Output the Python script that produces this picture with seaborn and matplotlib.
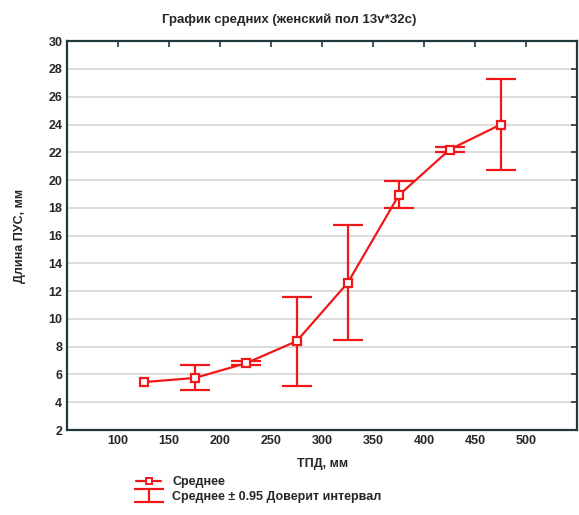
import matplotlib
matplotlib.use("Agg")
import matplotlib.pyplot as plt
import seaborn as sns
import pandas as pd
import math
from matplotlib.lines import Line2D

tpd = [125, 175, 225, 275, 325, 375, 425, 475]
mean_pus = [5.45, 5.75, 6.8, 8.4, 12.6, 18.9, 22.2, 24.0]
ci_low = [float('nan'), 4.9, 6.65, 5.2, 8.5, 18.0, 22.0, 20.7]
ci_high = [float('nan'), 6.65, 6.95, 11.6, 16.8, 19.9, 22.4, 27.3]

x_ticks = [100, 150, 200, 250, 300, 350, 400, 450, 500]
y_ticks = list(range(2, 31, 2))

sns.set_style("white")
plt.rcParams['font.family'] = ['Liberation Sans', 'DejaVu Sans']
plt.rcParams['font.weight'] = 'bold'

df = pd.DataFrame({"ТПД": tpd, "ПУС": mean_pus})

fig = plt.figure(figsize=(5.79, 5.15), dpi=100)
ax = fig.add_axes([0.116, 0.165, 0.881, 0.755])

red = "#f01818"
ex, ey, el, eh = [], [], [], []
for x, m, lo, hi in zip(tpd, mean_pus, ci_low, ci_high):
    if not (math.isnan(lo) or math.isnan(hi)):
        ex.append(x); ey.append(m); el.append(m - lo); eh.append(hi - m)
eb = ax.errorbar(ex, ey, yerr=[el, eh], fmt='none', ecolor=red,
                 elinewidth=1.6, capsize=11, capthick=1.6, zorder=3)
sns.lineplot(data=df, x="ТПД", y="ПУС", ax=ax, color=red, linewidth=1.6,
             marker='s', markersize=6, markerfacecolor='white',
             markeredgecolor=red, markeredgewidth=1.6, zorder=4)

ax.set_xlim(50, 550)
ax.set_ylim(2, 30)
ax.set_xticks(x_ticks)
ax.set_yticks(y_ticks)
ax.yaxis.grid(True, color="#dcdcdc", linewidth=1.4)
ax.set_axisbelow(True)
for s in ax.spines.values():
    s.set_color("#203838")
    s.set_linewidth(1.6)
ax.tick_params(direction='in', length=4, width=1.2, color="#203838",
               top=True, right=True, labelsize=9)
for lab in ax.get_xticklabels() + ax.get_yticklabels():
    lab.set_fontweight('bold')
ax.set_xlabel("ТПД, мм", fontsize=9, fontweight='bold', labelpad=8)
ax.set_ylabel("Длина ПУС, мм", fontsize=9, fontweight='bold', labelpad=16)

fig.text(0.5, 0.962, "График средних (женский пол 13v*32c)", ha='center',
         va='center', fontsize=9.5, fontweight='bold')

handles = [
    Line2D([0], [0], color=red, lw=1.6, marker='s', markersize=5,
           markerfacecolor='white', markeredgecolor=red, markeredgewidth=1.4),
    eb,
]
leg = fig.legend(handles, ["Среднее", "Среднее ± 0.95 Доверит интервал"],
                 loc='upper left', bbox_to_anchor=(0.235, 0.075), frameon=False,
                 handlelength=2.0, labelspacing=0.2, handletextpad=0.9,
                 borderaxespad=0, borderpad=0, prop={'weight': 'bold', 'size': 9})

fig.savefig("out.png", dpi=100)
